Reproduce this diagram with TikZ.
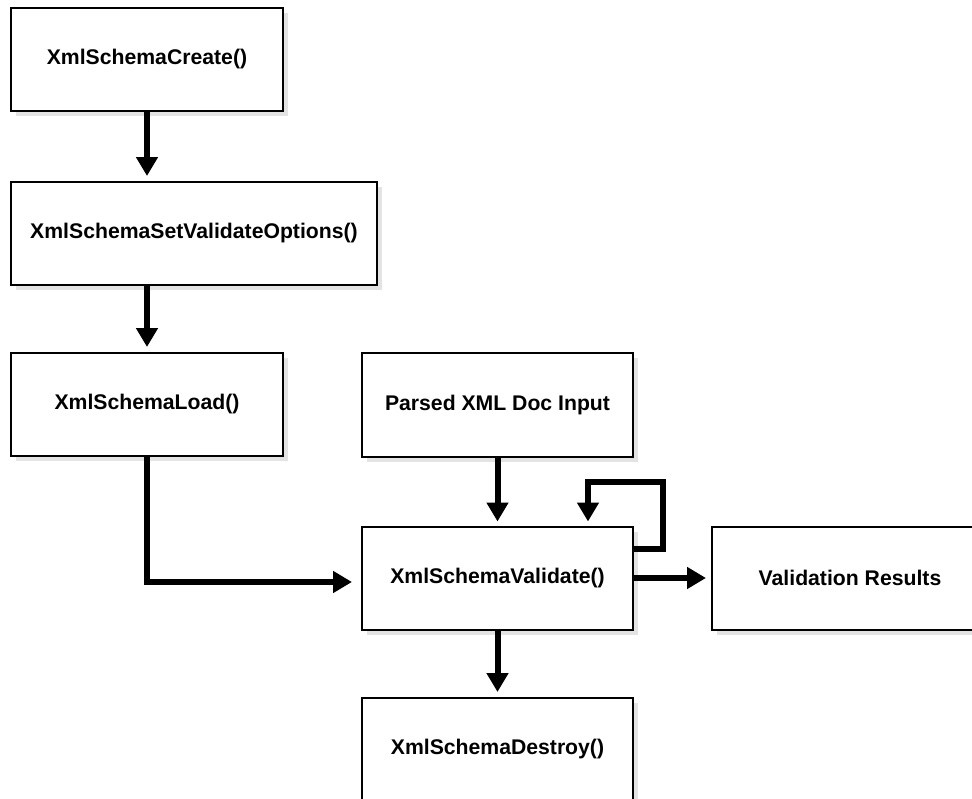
\documentclass[tikz,border=0pt]{standalone}
\usepackage{fontspec}
\setmainfont{Liberation Sans}
\usetikzlibrary{arrows.meta,shadows,calc}
\tikzset{
  fbox/.style={draw=black, line width=2pt, fill=white, rectangle, inner sep=0pt,
    minimum width=272pt, minimum height=103pt,
    font=\bfseries\fontsize{21.2}{25}\selectfont,
    drop shadow={shadow xshift=5pt, shadow yshift=-5pt, fill=black!11, opacity=1}},
  flow/.style={line width=6pt, -{Triangle[length=19pt,width=21pt]}, shorten >=5pt}
}
\begin{document}
\begin{tikzpicture}[x=1pt,y=-1pt]
\useasboundingbox (0,0) rectangle (972,798);
\node[fbox] (b1) at (147,59.5) {XmlSchemaCreate()};
\node[fbox, minimum width=366pt] (b2) at (194,233.5) {XmlSchemaSetValidateOptions()};
\node[fbox] (b3) at (147,404.5) {XmlSchemaLoad()};
\node[fbox, minimum width=271pt, minimum height=104pt] (b4) at (497.5,405) {Parsed XML Doc Input};
\node[fbox, minimum width=271pt] (b5) at (497.5,578) {XmlSchemaValidate()};
\node[fbox, minimum width=276pt] (b6) at (850,578) {Validation Results};
\node[fbox, minimum width=271pt] (b7) at (497.5,749.5) {XmlSchemaDestroy()};
\coordinate (loopc) at (663,482);
\draw[flow] (b1.south) -- (b1.south |- b2.north);
\draw[flow] (b3.north |- b2.south) -- (b3.north);
\draw[flow, shorten >=9pt] (b3.south) |- ($(b5.west)+(0,4)$);
\draw[flow, shorten >=4pt] (b4.south) -- (b5.north);
\draw[flow, shorten >=4pt] ($(b5.east)+(0,-29)$) -| (loopc) -| ($(b5.north)+(90.5,0)$);
\draw[flow] (b5.east) -- (b6.west);
\draw[flow] (b5.south) -- (b7.north);
\end{tikzpicture}
\end{document}
